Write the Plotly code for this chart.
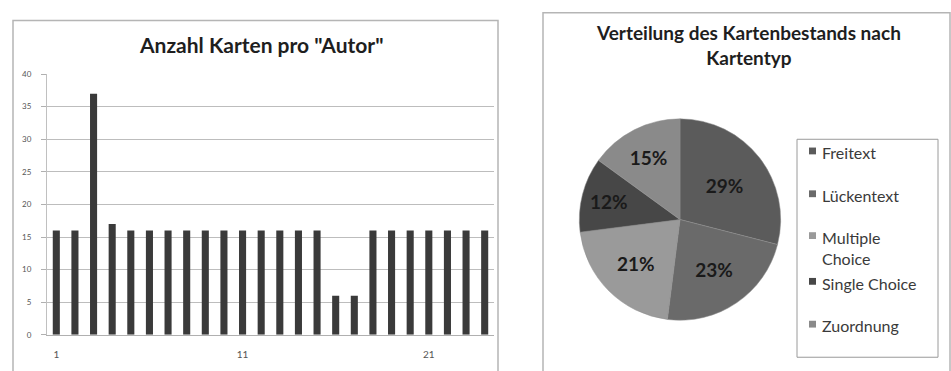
import plotly.graph_objects as go

W, H = 951, 371

# ---- data ----
authors = list(range(1, 25))
cards_per_author = [16, 16, 37, 17, 16, 16, 16, 16, 16, 16, 16, 16, 16, 16, 16,
                    6, 6, 16, 16, 16, 16, 16, 16, 16]
x_tick_vals = [1, 11, 21]
x_tick_text = ["1", "11", "21"]
y_ticks = [0, 5, 10, 15, 20, 25, 30, 35, 40]

card_types = ["Freitext", "Lückentext", "Multiple Choice", "Single Choice", "Zuordnung"]
type_share = [29, 23, 21, 12, 15]
type_colors = ["#5b5b5b", "#6a6a6a", "#9a9a9a", "#474747", "#8a8a8a"]

bar_title = 'Anzahl Karten pro "Autor"'
pie_title = "Verteilung des Kartenbestands nach<br>Kartentyp"

FONT = "Lato"

def px(x):
    return x / W

def py(y):
    return 1 - y / H

fig = go.Figure()

fig.add_trace(go.Bar(
    x=authors, y=cards_per_author,
    marker=dict(color="#3a3a3a", line=dict(width=0)),
    xaxis="x", yaxis="y", showlegend=False,
))

fig.add_trace(go.Pie(
    labels=card_types, values=type_share,
    marker=dict(colors=type_colors, line=dict(color="#8f8f8f", width=0.5)),
    sort=False, direction="clockwise", rotation=0,
    texttemplate="%{percent:.0%}", textposition="inside",
    insidetextorientation="horizontal",
    textfont=dict(family=FONT, size=19, color="#1a1a1a", weight="bold"),
    domain=dict(x=[px(577), px(783)], y=[py(324), py(117)]),
    showlegend=False, hoverinfo="label+percent",
))

shapes = [
    # chart frames
    dict(type="rect", xref="paper", yref="paper", x0=px(13), x1=px(498), y0=py(385), y1=py(16),
         line=dict(color="#b5b5b5", width=1.5), fillcolor="rgba(0,0,0,0)", layer="below"),
    dict(type="rect", xref="paper", yref="paper", x0=px(543), x1=px(950), y0=py(385), y1=py(8),
         line=dict(color="#b5b5b5", width=1.5), fillcolor="rgba(0,0,0,0)", layer="below"),
    # legend frame
    dict(type="rect", xref="paper", yref="paper", x0=px(797), x1=px(938), y0=py(362), y1=py(138),
         line=dict(color="#9a9a9a", width=1), fillcolor="rgba(0,0,0,0)"),
]

annotations = [
    dict(text=f"<b>{bar_title}</b>", x=px(261), y=py(41), xref="paper", yref="paper",
         showarrow=False, font=dict(family=FONT, size=21, color="#1e1e1e"),
         xanchor="center", yanchor="middle"),
    dict(text=f"<b>{pie_title}</b>", x=px(748), y=py(41), xref="paper", yref="paper",
         showarrow=False, font=dict(family=FONT, size=19, color="#1e1e1e"),
         xanchor="center", yanchor="middle"),
]

# manual legend
legend_rows = [150, 194, 237, 284, 328]
for name, col, yy in zip(card_types, type_colors, legend_rows):
    shapes.append(dict(type="rect", xref="paper", yref="paper",
                       x0=px(809), x1=px(816), y0=py(yy + 3.5), y1=py(yy - 3.5),
                       fillcolor=col, line=dict(width=0)))
    label = name.replace("Multiple ", "Multiple<br>")
    annotations.append(dict(text=label, x=px(820), y=py(yy - 10), xref="paper", yref="paper",
                            showarrow=False, xanchor="left", yanchor="top", align="left",
                            font=dict(family=FONT, size=16, color="#3a3a3a")))

fig.update_layout(
    width=W, height=H,
    margin=dict(l=0, r=0, t=0, b=0),
    paper_bgcolor="white", plot_bgcolor="white",
    bargap=0.62,
    xaxis=dict(domain=[px(47), px(494)], range=[0.5, 24.5],
               tickvals=x_tick_vals, ticktext=x_tick_text,
               showgrid=False, zeroline=False,
               showline=True, linecolor="#b0b0b0", linewidth=1,
               ticks="", ticklabelstandoff=10,
               tickfont=dict(family=FONT, size=10, color="#555555"),
               anchor="y"),
    yaxis=dict(domain=[py(339), py(71)], range=[0, 40],
               tickvals=y_ticks,
               showgrid=True, gridcolor="#bdbdbd", gridwidth=1,
               zeroline=False, showline=True, linecolor="#c0c0c0", linewidth=1,
               ticks="outside", ticklen=5, tickcolor="#b0b0b0",
               ticklabelstandoff=8,
               tickfont=dict(family=FONT, size=8, color="#555555"),
               anchor="x"),
    shapes=shapes,
    annotations=annotations,
)

fig.write_html("out.html")
